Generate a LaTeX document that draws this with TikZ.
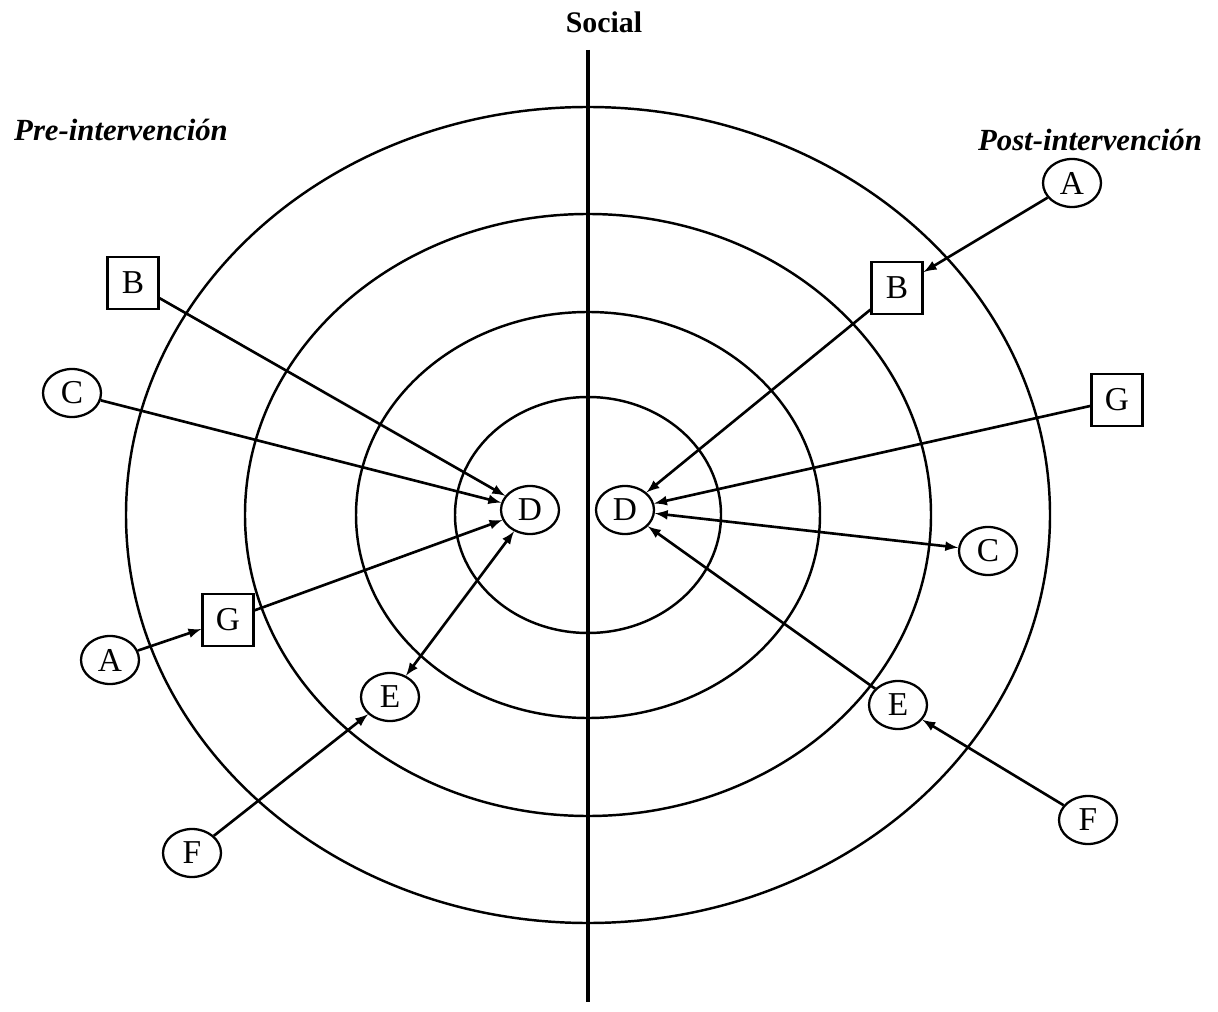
\documentclass[tikz,border=0pt]{standalone}
\usepackage{fontspec}
\setmainfont{Liberation Serif}
\usepackage{tikz}
\usetikzlibrary{positioning, calc, shapes.geometric}

\tikzset{
  circ/.style={draw, ellipse, minimum width=1.16cm, minimum height=0.96cm, inner sep=0pt, line width=1.3pt, font=\fontsize{19}{22}\selectfont},
  sqr/.style={draw, rectangle, minimum width=1.02cm, minimum height=1.04cm, inner sep=0pt, line width=1.3pt, font=\fontsize{19}{22}\selectfont},
  ring/.style={line width=1.4pt},
  link/.style={->, line width=1.5pt},
  both/.style={<->, line width=1.5pt}
}

\begin{document}
\begin{tikzpicture}[>=latex, x=0.2mm, y=-0.2mm, font=\fontsize{17}{20}\selectfont]

    \useasboundingbox (0,0) rectangle (1218,1012);

    % ================= Anillos (Rings) =================
    \coordinate (ctr) at (588,515);
    \draw[ring] (ctr) ellipse [x radius=92.4mm, y radius=81.6mm];
    \draw[ring] (ctr) ellipse [x radius=68.6mm, y radius=60.2mm];
    \draw[ring] (ctr) ellipse [x radius=46.4mm, y radius=40.6mm];
    \draw[ring] (ctr) ellipse [x radius=26.6mm, y radius=23.6mm];

    % ================= Eje central (Axis) =================
    \node[font=\fontsize{17}{20}\selectfont\bfseries] (social) at (604,22) {Social};
    \coordinate (axtop) at (588,50);
    \coordinate (axbot) at (588,1002);
    \draw[line width=2.8pt] (axtop) -- (axbot);

    % ================= Títulos (Titles) =================
    \node[font=\fontsize{17.5}{20}\selectfont\bfseries\itshape] (pre) at (121,130) {Pre-intervención};
    \node[font=\fontsize{17.5}{20}\selectfont\bfseries\itshape] (post) at (1090,140) {Post-intervención};

    % ================= Pre-intervención (Left) =================
    \node[sqr] (lB) at (133,283) {B};
    \node[circ] (lC) at (72,393) {C};
    \node[circ] (lD) at (530,510) {D};
    \node[sqr] (lG) at (228,620) {G};
    \node[circ] (lA) at (110,660) {A};
    \node[circ] (lE) at (390,697) {E};
    \node[circ] (lF) at (192,853) {F};

    \draw[link] (lB) -- (lD);
    \draw[link] (lC) -- (lD);
    \draw[link] (lG) -- (lD);
    \draw[link] (lA) -- (lG);
    \draw[both] (lE) -- (lD);
    \draw[link] (lF) -- (lE);

    % ================= Post-intervención (Right) =================
    \node[circ] (rA) at (1072,183) {A};
    \node[sqr] (rB) at (897,288) {B};
    \node[sqr] (rG) at (1117,400) {G};
    \node[circ] (rD) at (625,510) {D};
    \node[circ] (rC) at (988,551) {C};
    \node[circ] (rE) at (898,705) {E};
    \node[circ] (rF) at (1088,820) {F};

    \draw[link] (rA) -- (rB);
    \draw[link] (rB) -- (rD);
    \draw[link] (rG) -- (rD);
    \draw[both] (rC) -- (rD);
    \draw[link] (rE) -- (rD);
    \draw[link] (rF) -- (rE);

\end{tikzpicture}
\end{document}
